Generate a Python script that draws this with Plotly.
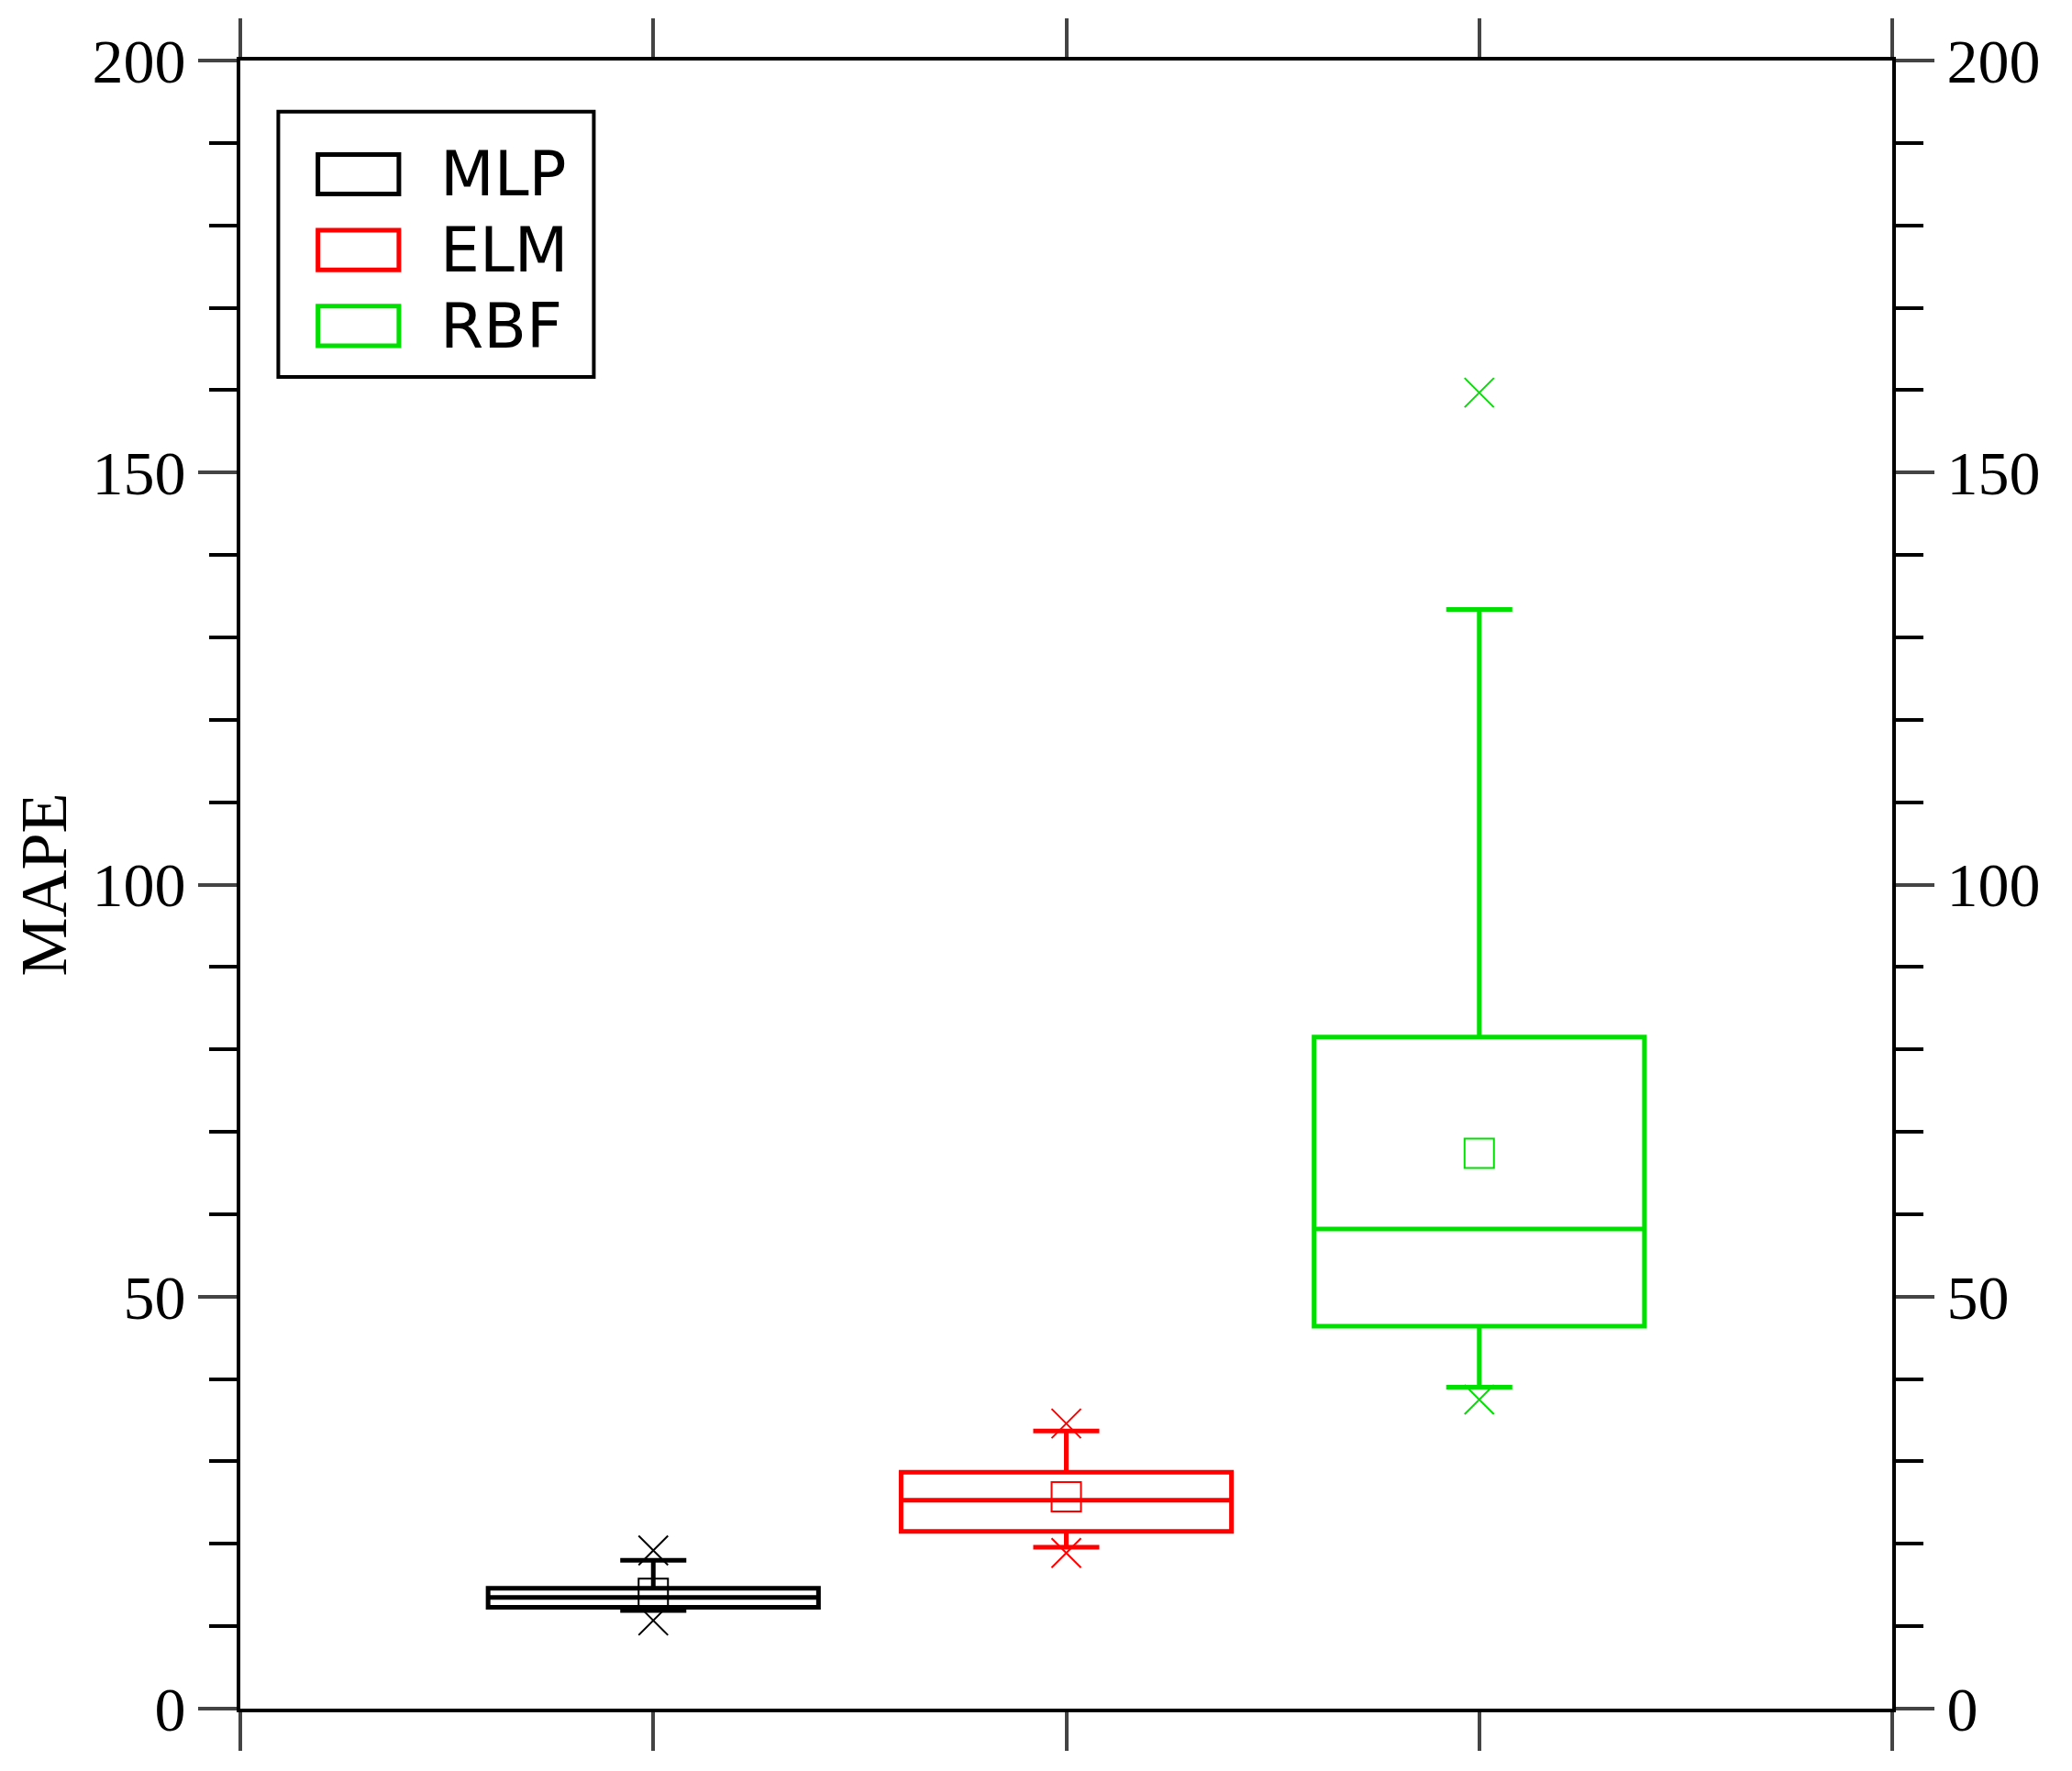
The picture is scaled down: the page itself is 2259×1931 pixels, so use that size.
import plotly.graph_objects as go

names = ["MLP", "ELM", "RBF"]
colors = ["#000000", "#ff0000", "#00e000"]
xpos = [1, 2, 3]
q1 = [12.3, 21.5, 46.4]
median = [13.5, 25.3, 58.2]
q3 = [14.6, 28.7, 81.5]
lower = [11.9, 19.6, 39.0]
upper = [18.0, 33.7, 133.4]
mean = [14.0, 25.7, 67.4]
xmin = [10.7, 18.9, 37.5]
xmax = [19.2, 34.6, 159.7]

fig = go.Figure()
for i in range(3):
    fig.add_trace(go.Box(x=[xpos[i]], q1=[q1[i]], median=[median[i]], q3=[q3[i]],
                         lowerfence=[lower[i]], upperfence=[upper[i]], name=names[i],
                         line=dict(color=colors[i], width=5), fillcolor="rgba(0,0,0,0)",
                         width=0.8, whiskerwidth=0.2, boxpoints=False, showlegend=False))
    fig.add_trace(go.Scatter(x=[xpos[i]], y=[mean[i]], mode="markers", showlegend=False,
                             marker=dict(symbol="square-open", size=32, color=colors[i], line=dict(width=2))))
    fig.add_trace(go.Scatter(x=[xpos[i], xpos[i]], y=[xmin[i], xmax[i]], mode="markers", showlegend=False,
                             marker=dict(symbol="x-thin-open", size=32, color=colors[i], line=dict(width=2, color=colors[i]))))
fig.add_trace(go.Scatter(x=[0], y=[0], yaxis="y2", mode="markers", showlegend=False,
                         marker=dict(opacity=0), hoverinfo="skip"))

# manual legend (paper coords)
shapes = [dict(type="rect", xref="paper", yref="paper", x0=0.023, x1=0.214, y0=0.808, y1=0.969,
               line=dict(color="black", width=4), fillcolor="white", layer="above")]
annotations = []
ys = [0.931, 0.885, 0.839]
for i in range(3):
    shapes.append(dict(type="rect", xref="paper", yref="paper", x0=0.047, x1=0.096,
                       y0=ys[i] - 0.012, y1=ys[i] + 0.012, line=dict(color=colors[i], width=5)))
    annotations.append(dict(xref="paper", yref="paper", x=0.12, y=ys[i], text=names[i], showarrow=False,
                            xanchor="left", yanchor="middle",
                            font=dict(family="DejaVu Sans", size=68, color="black")))

tickfont = dict(family="Liberation Serif", size=68, color="black")
yax = dict(range=[0, 200], tickvals=[0, 50, 100, 150, 200], ticks="outside", ticklen=42, tickwidth=4,
           linecolor="black", linewidth=4, showgrid=False, zeroline=False, tickfont=tickfont,
           minor=dict(dtick=10, ticks="outside", ticklen=30, tickwidth=4, tickcolor="black"))
fig.update_layout(
    width=2259, height=1931, plot_bgcolor="white", paper_bgcolor="white",
    margin=dict(l=252, r=204, t=58, b=76),
    xaxis=dict(range=[0, 4], tickvals=[0, 1, 2, 3, 4], showticklabels=False, ticks="outside",
               ticklen=42, tickwidth=4, linecolor="black", linewidth=4, mirror="allticks",
               showgrid=False, zeroline=False),
    yaxis=dict(**yax, mirror=True, title=dict(text="MAPE", font=dict(family="Liberation Serif", size=72, color="black"), standoff=30)),
    yaxis2=dict(**yax, overlaying="y", side="right"),
    shapes=shapes, annotations=annotations,
    showlegend=False,
)
fig.write_html("out.html")
